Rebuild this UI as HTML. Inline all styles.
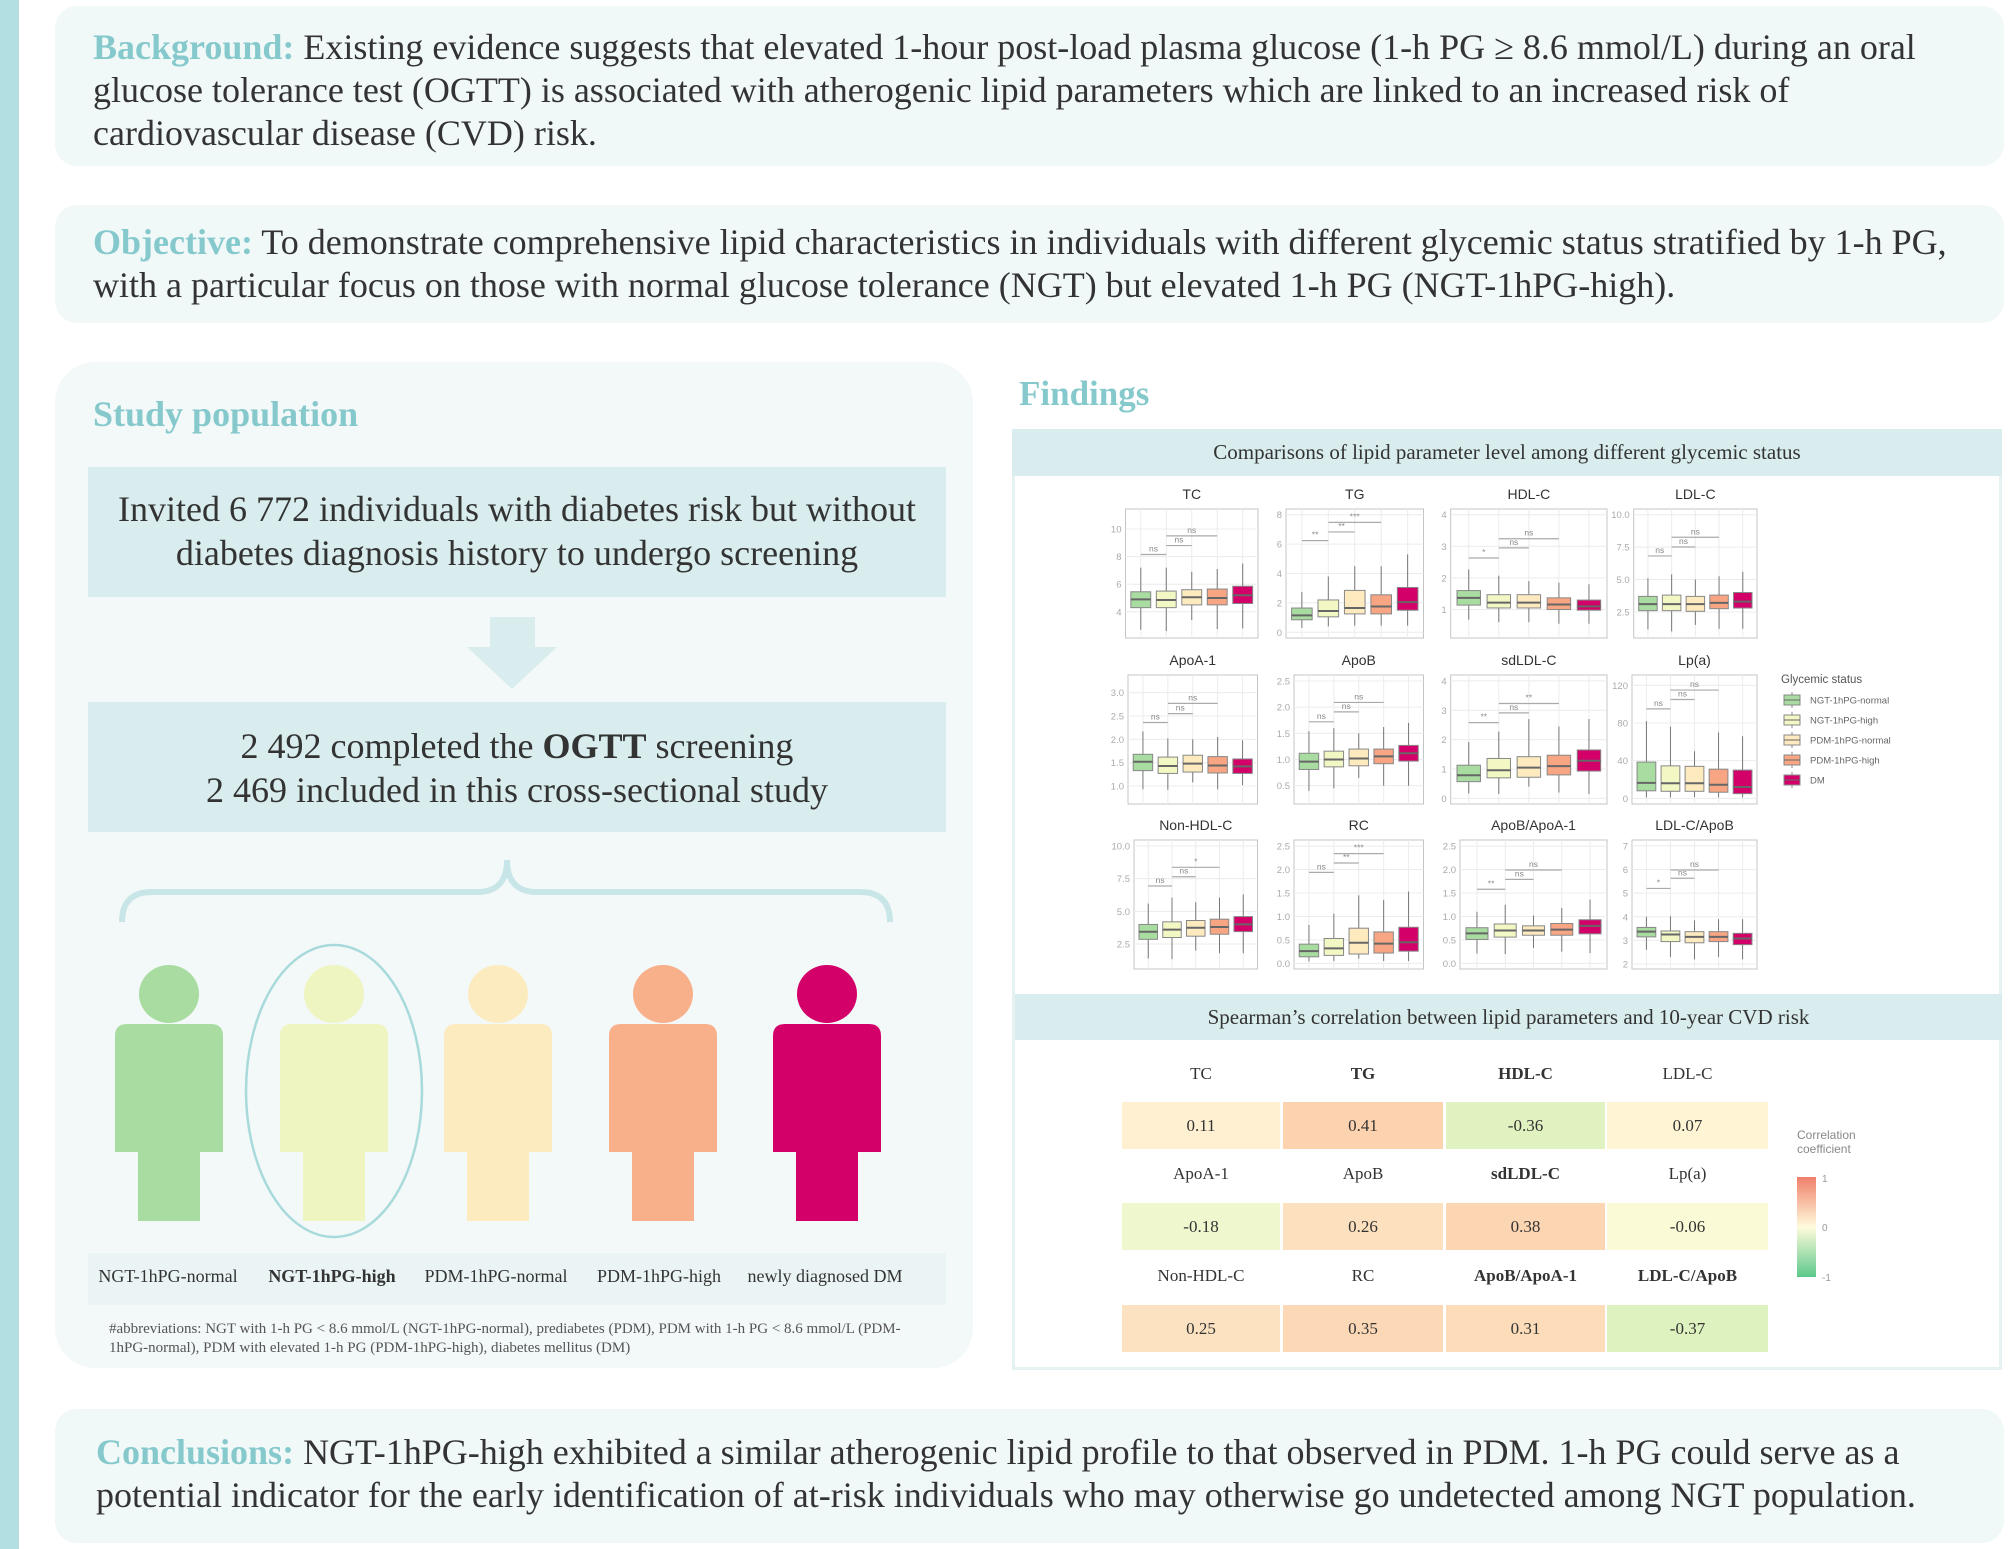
<!DOCTYPE html>
<html><head><meta charset="utf-8">
<style>
*{margin:0;padding:0;box-sizing:border-box}
body{width:2008px;height:1549px;position:relative;background:#fff;font-family:"Liberation Serif",serif;overflow:hidden;color:#333}
.abs{position:absolute}
.box{position:absolute;background:#f1f8f8;border-radius:22px}
.txt{position:absolute;font-size:36px;line-height:43px;color:#333;white-space:nowrap}
.lab{color:#86c9cc;font-weight:bold}
.tb{position:absolute;background:#d9edee;text-align:center;color:#333}
</style></head><body>
<div class="abs" style="left:0;top:0;width:19px;height:1549px;background:#b3dfe2"></div>

<div class="box" style="left:55px;top:6px;width:1949px;height:160px"></div>
<div class="txt" style="left:93px;top:26px"><span class="lab">Background:</span> Existing evidence suggests that elevated 1-hour post-load plasma glucose (1-h PG ≥ 8.6 mmol/L) during an oral<br>glucose tolerance test (OGTT) is associated with atherogenic lipid parameters which are linked to an increased risk of<br>cardiovascular disease (CVD) risk.</div>

<div class="box" style="left:55px;top:205px;width:1949px;height:118px"></div>
<div class="txt" style="left:93px;top:221px"><span class="lab">Objective:</span> To demonstrate comprehensive lipid characteristics in individuals with different glycemic status stratified by 1-h PG,<br>with a particular focus on those with normal glucose tolerance (NGT) but elevated 1-h PG (NGT-1hPG-high).</div>

<div class="box" style="left:55px;top:362px;width:918px;height:1006px;border-radius:40px;background:#f3f8f8"></div>
<div class="txt lab" style="left:93px;top:393px;font-size:36px">Study population</div>
<div class="tb" style="left:88px;top:467px;width:858px;height:130px;font-size:36px;line-height:44px;padding-top:20px">Invited 6 772 individuals with diabetes risk but without<br>diabetes diagnosis history to undergo screening</div>
<svg class="abs" style="left:0;top:0" width="1000" height="1549"><polygon points="490,617 535,617 535,647 557,647 512,689 467,647 490,647" fill="#d9edee"/>
<path d="M122,922 Q122,892 152,892 L477,892 Q507,892 507,860 Q507,892 537,892 L860,892 Q890,892 890,922" fill="none" stroke="#c8e6e8" stroke-width="6"/></svg>
<div class="tb" style="left:88px;top:702px;width:858px;height:130px;font-size:36px;line-height:44px;padding-top:22px">2 492 completed the <b>OGTT</b> screening<br>2 469 included in this cross-sectional study</div>

<svg class="abs" style="left:0;top:0" width="1000" height="1549">
<g id="people"></g>
<ellipse cx="334" cy="1091" rx="88" ry="146" fill="none" stroke="#a8dadc" stroke-width="2.5"/>
</svg>
<div class="abs" style="left:88px;top:1253px;width:858px;height:52px;background:#eaf4f4"></div>
<div id="glabels"></div>
<div class="abs" style="left:109px;top:1320px;font-size:15px;line-height:19px;color:#555;white-space:nowrap">#abbreviations: NGT with 1-h PG &lt; 8.6 mmol/L (NGT-1hPG-normal), prediabetes (PDM), PDM with 1-h PG &lt; 8.6 mmol/L (PDM-<br>1hPG-normal), PDM with elevated 1-h PG (PDM-1hPG-high), diabetes mellitus (DM)</div>

<div class="txt lab" style="left:1019px;top:372px;font-size:35px">Findings</div>
<div class="abs" style="left:1012px;top:429px;width:990px;height:941px;border:3px solid #e6f2f2;background:#fff"></div>
<div class="tb" style="left:1012px;top:429px;width:990px;height:47px;font-size:21px;line-height:47px">Comparisons of lipid parameter level among different glycemic status</div>
<div class="tb" style="left:1015px;top:994px;width:987px;height:46px;font-size:21px;line-height:46px">Spearman’s correlation between lipid parameters and 10-year CVD risk</div>
<svg id="chart" class="abs" style="left:0;top:0" width="2008" height="1549"></svg>

<div class="box" style="left:55px;top:1409px;width:1949px;height:134px"></div>
<div class="txt" style="left:96px;top:1431px"><span class="lab">Conclusions:</span> NGT-1hPG-high exhibited a similar atherogenic lipid profile to that observed in PDM. 1-h PG could serve as a<br>potential indicator for the early identification of at-risk individuals who may otherwise go undetected among NGT population.</div>

<script>
const groups=['NGT-1hPG-normal','NGT-1hPG-high','PDM-1hPG-normal','PDM-1hPG-high','DM'];
const groupColors=['#a8dca0','#f2f7c4','#fdebbf','#f7a582','#d4006a'];
const personColors=['#a8dca0','#eef5c0','#fdebc0','#f8b08a','#d4006a'];
const personLabels=['NGT-1hPG-normal','NGT-1hPG-high','PDM-1hPG-normal','PDM-1hPG-high','newly diagnosed DM'];
// box data: [low whisker, q1, median, q3, high whisker] per group
const tcBoxes=[[2.7,4.3,4.9,5.45,7.2],[2.6,4.3,4.85,5.5,7.2],[3.4,4.5,5.05,5.6,6.9],[2.75,4.5,5.0,5.65,7.1],[2.8,4.6,5.2,5.85,7.5]];
const tgBoxes=[[0.3,0.85,1.15,1.65,2.75],[0.4,1.05,1.45,2.2,3.8],[0.45,1.25,1.65,2.85,4.5],[0.45,1.25,1.75,2.55,4.5],[0.45,1.5,2.05,3.05,5.3]];
const hdlBoxes=[[0.68,1.14,1.37,1.6,2.27],[0.6,1.05,1.22,1.47,2.07],[0.6,1.05,1.22,1.47,1.9],[0.55,1.0,1.16,1.37,1.85],[0.55,0.98,1.1,1.3,1.8]];
const ldlBoxes=[[1.15,2.6,3.1,3.7,5.1],[1.0,2.6,3.1,3.8,5.4],[1.5,2.55,3.1,3.7,5.0],[1.2,2.75,3.2,3.8,5.25],[1.2,2.8,3.3,4.0,5.6]];
const apoa1Boxes=[[0.93,1.33,1.52,1.68,2.17],[0.92,1.27,1.43,1.62,2.02],[1.08,1.3,1.48,1.66,2.0],[0.93,1.28,1.44,1.63,2.05],[1.02,1.27,1.42,1.58,1.98]];
const apobBoxes=[[0.4,0.81,0.96,1.12,1.54],[0.45,0.86,1.0,1.16,1.6],[0.65,0.88,1.02,1.2,1.5],[0.5,0.92,1.06,1.2,1.62],[0.5,0.97,1.12,1.27,1.7]];
const sdldlBoxes=[[0.17,0.57,0.79,1.13,1.92],[0.15,0.7,0.96,1.36,2.27],[0.4,0.72,1.05,1.42,2.7],[0.2,0.8,1.1,1.47,2.45],[0.15,0.93,1.28,1.65,2.7]];
const lpaBoxes=[[1,8,16.5,38.5,82],[1,7.5,16,34.5,76],[1.5,7.5,16,34,50],[1,6.5,14.5,31,70],[1,5,12,30,66]];
const nonhdlBoxes=[[1.4,2.86,3.44,4.0,5.6],[1.35,3.0,3.6,4.2,6.05],[2.0,3.1,3.75,4.3,5.7],[1.8,3.25,3.8,4.4,6.05],[1.8,3.45,4.0,4.6,6.3]];
const rcBoxes=[[0.04,0.14,0.26,0.41,0.82],[0.05,0.17,0.32,0.53,1.06],[0.1,0.2,0.44,0.75,1.45],[0.05,0.22,0.42,0.67,1.35],[0.05,0.26,0.45,0.77,1.53]];
const ratioBoxes=[[0.21,0.51,0.64,0.76,1.1],[0.2,0.56,0.7,0.84,1.25],[0.33,0.6,0.7,0.8,1.02],[0.25,0.6,0.72,0.85,1.18],[0.22,0.63,0.8,0.93,1.36]];
const ldlApobBoxes=[[2.6,3.15,3.37,3.55,4.0],[2.3,2.95,3.25,3.4,4.02],[2.2,2.9,3.15,3.37,3.85],[2.3,2.95,3.15,3.37,3.9],[2.2,2.82,3.08,3.3,3.9]];
const panelTitles=['TC','TG','HDL-C','LDL-C','ApoA-1','ApoB','sdLDL-C','Lp(a)','Non-HDL-C','RC','ApoB/ApoA-1','LDL-C/ApoB'];
const panelBoxes=[tcBoxes,tgBoxes,hdlBoxes,ldlBoxes,apoa1Boxes,apobBoxes,sdldlBoxes,lpaBoxes,nonhdlBoxes,rcBoxes,ratioBoxes,ldlApobBoxes];
const panelDomains=[[2.1,11.45],[-0.39,8.39],[0.1,4.18],[0.49,10.44],[0.616,3.377],[0.151,2.614],[-0.19,4.2],[-6,131],[0.59,10.46],[-0.12,2.63],[-0.12,2.63],[1.79,7.25]];
const panelTicks=[[4,6,8,10],[0,2,4,6,8],[1,2,3,4],[2.5,5,7.5,10],[1,1.5,2,2.5,3],[0.5,1,1.5,2,2.5],[0,1,2,3,4],[0,40,80,120],[2.5,5,7.5,10],[0,0.5,1,1.5,2,2.5],[0,0.5,1,1.5,2,2.5],[2,3,4,5,6,7]];
const tickFmt=[0,0,0,1,1,1,0,0,1,1,1,0];
const bracketLevels=[[8.15,8.8,9.5],[6.24,6.83,7.48],[2.63,2.95,3.24],[6.82,7.51,8.26],[2.36,2.55,2.77],[1.72,1.91,2.09],[2.58,2.91,3.23],[95,105,115],[6.94,7.65,8.37],[1.94,2.14,2.34],[1.58,1.79,1.99],[5.2,5.63,5.98]];
const bracketLabels=[['ns','ns','ns'],['**','**','***'],['*','ns','ns'],['ns','ns','ns'],['ns','ns','ns'],['ns','ns','ns'],['**','ns','**'],['ns','ns','ns'],['ns','ns','*'],['ns','**','***'],['**','ns','ns'],['*','ns','ns']];
// heatmap
const heatLabels=['TC','TG','HDL-C','LDL-C','ApoA-1','ApoB','sdLDL-C','Lp(a)','Non-HDL-C','RC','ApoB/ApoA-1','LDL-C/ApoB'];
const heatValues=[0.11,0.41,-0.36,0.07,-0.18,0.26,0.38,-0.06,0.25,0.35,0.31,-0.37];
const heatBold=[false,true,true,false,false,false,true,false,false,false,true,true];

const NS='http://www.w3.org/2000/svg';
function mk(parent,tag,attrs){const e=document.createElementNS(NS,tag);for(const k in attrs)e.setAttribute(k,attrs[k]);parent.appendChild(e);return e;}

// people
const ppl=document.getElementById('people');
const pcx=[169,334,498,663,827];
personColors.forEach((c,i)=>{
  const g=mk(ppl,'g',{});
  
  
  const x=pcx[i];
  mk(g,'ellipse',{cx:x,cy:994,rx:30,ry:29,fill:c});
  mk(g,'path',{d:`M${x-54},1152 L${x-54},1036 Q${x-54},1024 ${x-42},1024 L${x+42},1024 Q${x+54},1024 ${x+54},1036 L${x+54},1152 Z`,fill:c});
  mk(g,'rect',{x:x-31,y:1151,width:62,height:70,fill:c});
});
const gl=document.getElementById('glabels');
const lcx=[168,332,496,659,825];
personLabels.forEach((t,i)=>{
  const d=document.createElement('div');
  
  
  d.className='abs';
  d.style.cssText=`left:${lcx[i]-110}px;top:1266px;width:220px;text-align:center;font-size:18px;color:#333;${i==1?'font-weight:bold;':''}`;
  d.textContent=t;gl.appendChild(d);
});

// boxplots
const svg=document.getElementById('chart');
const colX=[[1125.5,1258],[1286,1423.5],[1450.7,1607],[1633.7,1757],[1128,1257.5],[1294,1423.5],[1450.7,1607],[1632,1757],[1134,1257.5],[1294,1423.5],[1460,1607],[1632,1757]];
const rowY=[[509,638],[675,804],[840,969]];
const titleY=[499,665,830];
panelTitles.forEach((t,p)=>{
  const [x0,x1]=colX[p];const [y0,y1]=rowY[Math.floor(p/4)];
  const [d0,d1]=panelDomains[p];
  const ys=v=>y1-(v-d0)/(d1-d0)*(y1-y0);
  const step=(x1-x0)/5.2;
  const xs=i=>x0+step*(i+0.6);
  const g=mk(svg,'g',{});
  
  
  mk(g,'rect',{x:x0,y:y0,width:x1-x0,height:y1-y0,fill:'#fff',stroke:'#c4c4c4','stroke-width':1});
  panelTicks[p].forEach(v=>{
    mk(g,'line',{x1:x0,x2:x1,y1:ys(v),y2:ys(v),stroke:'#ececec','stroke-width':1});
    const tx=mk(g,'text',{x:x0-4,y:ys(v)+3.5,'text-anchor':'end','font-size':9.5,fill:'#aaa','font-family':'Liberation Sans, sans-serif'});
    tx.textContent=tickFmt[p]?v.toFixed(1):String(v);
  });
  for(let i=0;i<5;i++)mk(g,'line',{x1:xs(i),x2:xs(i),y1:y0,y2:y1,stroke:'#ececec','stroke-width':1});
  const tt=mk(g,'text',{x:(x0+x1)/2,y:titleY[Math.floor(p/4)],'text-anchor':'middle','font-size':14,fill:'#333','font-family':'Liberation Sans, sans-serif'});
  tt.textContent=t;
  const bw=step*0.78;
  panelBoxes[p].forEach((b,i)=>{
    const cx=xs(i);
    const bg=mk(g,'g',{});
    
    
    mk(bg,'line',{x1:cx,x2:cx,y1:ys(b[0]),y2:ys(b[4]),stroke:'#777','stroke-width':1});
    mk(bg,'rect',{x:cx-bw/2,y:ys(b[3]),width:bw,height:ys(b[1])-ys(b[3]),fill:groupColors[i],stroke:'#888','stroke-width':1});
    mk(bg,'line',{x1:cx-bw/2,x2:cx+bw/2,y1:ys(b[2]),y2:ys(b[2]),stroke:'#666','stroke-width':2});
  });
  const pairs=[[0,1],[1,2],[1,3]];
  pairs.forEach((pr,k)=>{
    const y=ys(bracketLevels[p][k]);
    mk(g,'line',{x1:xs(pr[0]),x2:xs(pr[1]),y1:y,y2:y,stroke:'#aaa','stroke-width':1.2});
    const lt=mk(g,'text',{x:(xs(pr[0])+xs(pr[1]))/2,y:y-3,'text-anchor':'middle','font-size':8.5,fill:'#888','font-family':'Liberation Sans, sans-serif'});
    lt.textContent=bracketLabels[p][k];
  });
});
// legend
const lg=mk(svg,'g',{});


const lt=mk(lg,'text',{x:1781,y:683,'font-size':11.5,fill:'#555','font-family':'Liberation Sans, sans-serif'});lt.textContent='Glycemic status';
groups.forEach((gname,i)=>{
  const y=700+i*20;
  const e=mk(lg,'g',{});
  
  
  mk(e,'line',{x1:1792,x2:1792,y1:y-8,y2:y+8,stroke:'#888'});
  mk(e,'rect',{x:1784,y:y-5,width:16,height:10,fill:groupColors[i],stroke:'#888'});
  mk(e,'line',{x1:1784,x2:1800,y1:y,y2:y,stroke:'#666'});
  const t=mk(e,'text',{x:1810,y:y+3.5,'font-size':9.5,fill:'#666','font-family':'Liberation Sans, sans-serif'});t.textContent=gname;
});

// heatmap
function heatColor(v){
  const z=[255,251,220],pos=[248,150,110],neg=[166,226,142];
  const e=v>=0?pos:neg,a=Math.abs(v);
  return 'rgb('+z.map((c,k)=>Math.round(c+(e[k]-c)*a)).join(',')+')';
}
const cellX=[1122,1283,1446,1607],cellW=[158,160,159,161];
const cellY=[1102,1203,1305],labY=[1073,1173,1275];
heatValues.forEach((v,i)=>{
  const r=Math.floor(i/4),c=i%4;
  const g=mk(svg,'g',{});
  
  
  mk(g,'rect',{x:cellX[c],y:cellY[r],width:cellW[c],height:47,fill:heatColor(v)});
  const t=mk(g,'text',{x:cellX[c]+cellW[c]/2,y:cellY[r]+29,'text-anchor':'middle','font-size':17,fill:'#333','font-family':'Liberation Serif, serif'});
  t.textContent=v.toFixed(2);
  const l=mk(g,'text',{x:cellX[c]+cellW[c]/2,y:labY[r]+6,'text-anchor':'middle','font-size':17,fill:'#333','font-family':'Liberation Serif, serif','font-weight':heatBold[i]?'bold':'normal'});
  l.textContent=heatLabels[i];
});
// colorbar
const cb=mk(svg,'g',{});


const defs=mk(svg,'defs',{});
const lgd=mk(defs,'linearGradient',{id:'cbg',x1:0,y1:0,x2:0,y2:1});
mk(lgd,'stop',{offset:'0','stop-color':'#f07f6a'});
mk(lgd,'stop',{offset:'0.5','stop-color':'#fffbdc'});
mk(lgd,'stop',{offset:'1','stop-color':'#5cc88a'});
mk(cb,'rect',{x:1797,y:1177,width:19,height:100,fill:'url(#cbg)'});
[['Correlation',1139],['coefficient',1153]].forEach(a=>{const t=mk(cb,'text',{x:1797,y:a[1],'font-size':12,fill:'#888','font-family':'Liberation Sans, sans-serif'});t.textContent=a[0];});
[['1',1182],['0',1231],['-1',1281]].forEach(a=>{const t=mk(cb,'text',{x:1822,y:a[1],'font-size':10,fill:'#999','font-family':'Liberation Sans, sans-serif'});t.textContent=a[0];});
</script>
</body></html>
